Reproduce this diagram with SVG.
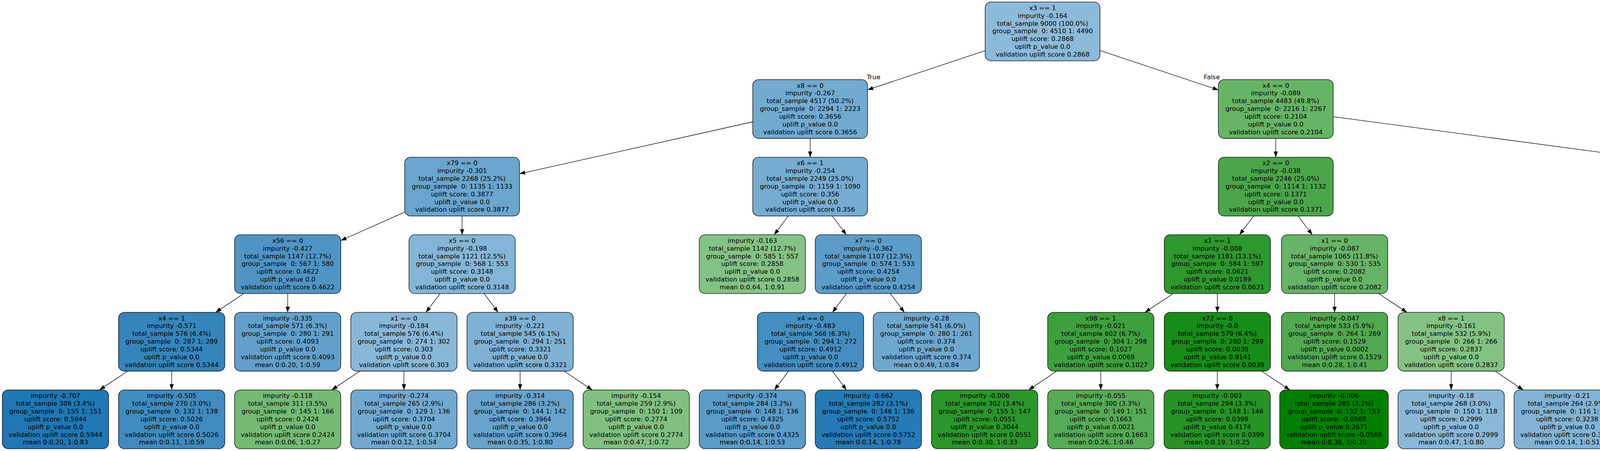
<svg xmlns="http://www.w3.org/2000/svg" width="6533" height="1155" viewBox="0 0 6533 1155">
<style>
.node rect { stroke:#000; stroke-width:1.3; }
.node text, .elabel { font-family:"DejaVu Sans","Liberation Sans",sans-serif; font-size:16.45px; text-anchor:middle; fill:#000; white-space:pre; }
.edges path { stroke:#000; stroke-width:1.3; fill:none; marker-end:url(#arrow); }
</style>
<defs>
<marker id="arrow" markerUnits="userSpaceOnUse" markerWidth="14.5" markerHeight="10.7" refX="14.5" refY="5.35" orient="auto" viewBox="0 0 14.5 10.7"><path d="M0,0 L14.5,5.35 L0,10.7 z" fill="#000"/></marker>
</defs>
<rect width="6533" height="1155" fill="#fff"/>
<g id="edges" class="edges">
<path d="M2522,129.6L2221,230.1"/>
<path d="M2816,129.4L3119,230.3"/>
<path d="M1927,312L1330,445.1"/>
<path d="M2074,354.5L2074,402.6"/>
<path d="M3266,354.5L3266,402.6"/>
<path d="M3413,298.8L4608.5,458.3"/>
<path d="M1036,543.3L872.5,616"/>
<path d="M1183,553.2L1183,601.2"/>
<path d="M2017.9,553.2L1982.1,601.2"/>
<path d="M2130.5,553.2L2166.5,601.2"/>
<path d="M3209.3,553.2L3173.2,601.2"/>
<path d="M3323,553.2L3359.5,601.2"/>
<path d="M4755.5,553.2L4755.5,601.2"/>
<path d="M4902.5,510.7L5511,646.2"/>
<path d="M623.9,751.8L552.1,799.9"/>
<path d="M736.5,751.8L736.5,799.9"/>
<path d="M1126.5,751.8L1090.5,799.9"/>
<path d="M1239.3,751.8L1275.2,799.9"/>
<path d="M2166.9,751.8L2131.1,799.9"/>
<path d="M2279.3,751.8L2315.2,799.9"/>
<path d="M3003.4,751.8L2931.1,799.9"/>
<path d="M3116.5,751.8L3116.5,799.9"/>
<path d="M3416.5,751.8L3416.5,799.9"/>
<path d="M3529.6,751.8L3601.9,799.9"/>
<path d="M4699.2,751.8L4663.3,799.9"/>
<path d="M4811.8,751.8L4847.7,799.9"/>
<path d="M5647,751.8L5647,799.9"/>
<path d="M5783,737L5958,814.7"/>
<path d="M326.7,950.5L254.8,998.6"/>
<path d="M439.5,950.5L439.5,998.6"/>
<path d="M921.2,950.5L849.3,998.6"/>
<path d="M1034,950.5L1034,998.6"/>
<path d="M1331.5,950.5L1331.5,998.6"/>
<path d="M1444.1,950.5L1516.1,998.6"/>
<path d="M2018.5,950.5L1982.5,998.6"/>
<path d="M2131.1,950.5L2166.9,998.6"/>
<path d="M2705.3,950.5L2633.4,998.6"/>
<path d="M2818,950.5L2818,998.6"/>
<path d="M3116.3,950.5L3116.3,998.6"/>
<path d="M3229.6,950.5L3301.9,998.6"/>
<path d="M3715,950.5L3715,998.6"/>
<path d="M3827.6,950.5L3899.4,998.6"/>
<path d="M4494.4,950.5L4422.6,998.6"/>
<path d="M4607,950.5L4607,998.6"/>
<path d="M4904,950.5L4904,998.6"/>
<path d="M5016.8,950.5L5088.7,998.6"/>
<path d="M5590.9,950.5L5555.1,998.6"/>
<path d="M5703.9,950.5L5740.1,998.6"/>
<path d="M6094,950.5L6094,998.6"/>
<path d="M6206.6,950.5L6278.4,998.6"/>
<text class="elabel" x="2236.4" y="203.3">True</text>
<text class="elabel" x="3102.4" y="203.3">False</text>
</g>
<g id="nodes">
<g id="n0" class="node" transform="translate(2669,5.2)"><rect x="-147" y="0" width="294" height="150.6" rx="15" fill="#8dbad9"/><text><tspan x="0" y="20.8">x3 == 1</tspan><tspan x="0" y="40.6">impurity -0.164</tspan><tspan x="0" y="60.5">total_sample 9000 (100.0%)</tspan><tspan x="0" y="80.3">group_sample  0: 4510 1: 4490</tspan><tspan x="0" y="100.1">uplift score: 0.2868</tspan><tspan x="0" y="120">uplift p_value 0.0</tspan><tspan x="0" y="139.8">validation uplift score 0.2868</tspan></text></g>
<g id="n1" class="node" transform="translate(2074,203.9)"><rect x="-147" y="0" width="294" height="150.6" rx="15" fill="#72aad0"/><text><tspan x="0" y="20.8">x8 == 0</tspan><tspan x="0" y="40.6">impurity -0.267</tspan><tspan x="0" y="60.5">total_sample 4517 (50.2%)</tspan><tspan x="0" y="80.3">group_sample  0: 2294 1: 2223</tspan><tspan x="0" y="100.1">uplift score: 0.3656</tspan><tspan x="0" y="120">uplift p_value 0.0</tspan><tspan x="0" y="139.8">validation uplift score 0.3656</tspan></text></g>
<g id="n2" class="node" transform="translate(3266,203.9)"><rect x="-147" y="0" width="294" height="150.6" rx="15" fill="#67b467"/><text><tspan x="0" y="20.8">x4 == 0</tspan><tspan x="0" y="40.6">impurity -0.089</tspan><tspan x="0" y="60.5">total_sample 4483 (49.8%)</tspan><tspan x="0" y="80.3">group_sample  0: 2216 1: 2267</tspan><tspan x="0" y="100.1">uplift score: 0.2104</tspan><tspan x="0" y="120">uplift p_value 0.0</tspan><tspan x="0" y="139.8">validation uplift score 0.2104</tspan></text></g>
<g id="n3" class="node" transform="translate(1183,402.6)"><rect x="-147" y="0" width="294" height="150.6" rx="15" fill="#6aa5cd"/><text><tspan x="0" y="20.8">x79 == 0</tspan><tspan x="0" y="40.6">impurity -0.301</tspan><tspan x="0" y="60.5">total_sample 2268 (25.2%)</tspan><tspan x="0" y="80.3">group_sample  0: 1135 1: 1133</tspan><tspan x="0" y="100.1">uplift score: 0.3877</tspan><tspan x="0" y="120">uplift p_value 0.0</tspan><tspan x="0" y="139.8">validation uplift score 0.3877</tspan></text></g>
<g id="n4" class="node" transform="translate(2074,402.6)"><rect x="-147" y="0" width="294" height="150.6" rx="15" fill="#76acd1"/><text><tspan x="0" y="20.8">x6 == 1</tspan><tspan x="0" y="40.6">impurity -0.254</tspan><tspan x="0" y="60.5">total_sample 2249 (25.0%)</tspan><tspan x="0" y="80.3">group_sample  0: 1159 1: 1090</tspan><tspan x="0" y="100.1">uplift score: 0.356</tspan><tspan x="0" y="120">uplift p_value 0.0</tspan><tspan x="0" y="139.8">validation uplift score 0.356</tspan></text></g>
<g id="n5" class="node" transform="translate(3266,402.6)"><rect x="-147" y="0" width="294" height="150.6" rx="15" fill="#4ba54b"/><text><tspan x="0" y="20.8">x2 == 0</tspan><tspan x="0" y="40.6">impurity -0.038</tspan><tspan x="0" y="60.5">total_sample 2246 (25.0%)</tspan><tspan x="0" y="80.3">group_sample  0: 1114 1: 1132</tspan><tspan x="0" y="100.1">uplift score: 0.1371</tspan><tspan x="0" y="120">uplift p_value 0.0</tspan><tspan x="0" y="139.8">validation uplift score 0.1371</tspan></text></g>
<g id="n6" class="node" transform="translate(4755.5,402.6)"><rect x="-147" y="0" width="294" height="150.6" rx="15" fill="#81c081"/><text><tspan x="0" y="20.8">x1 == 0</tspan><tspan x="0" y="40.6">impurity -0.153</tspan><tspan x="0" y="60.5">total_sample 2237 (24.9%)</tspan><tspan x="0" y="80.3">group_sample  0: 1102 1: 1135</tspan><tspan x="0" y="100.1">uplift score: 0.2769</tspan><tspan x="0" y="120">uplift p_value 0.0</tspan><tspan x="0" y="139.8">validation uplift score 0.2769</tspan></text></g>
<g id="n7" class="node" transform="translate(736.5,601.2)"><rect x="-136" y="0" width="272" height="150.6" rx="15" fill="#4f94c4"/><text><tspan x="0" y="20.8">x56 == 0</tspan><tspan x="0" y="40.6">impurity -0.427</tspan><tspan x="0" y="60.5">total_sample 1147 (12.7%)</tspan><tspan x="0" y="80.3">group_sample  0: 567 1: 580</tspan><tspan x="0" y="100.1">uplift score: 0.4622</tspan><tspan x="0" y="120">uplift p_value 0.0</tspan><tspan x="0" y="139.8">validation uplift score 0.4622</tspan></text></g>
<g id="n8" class="node" transform="translate(1183,601.2)"><rect x="-136" y="0" width="272" height="150.6" rx="15" fill="#85b5d6"/><text><tspan x="0" y="20.8">x5 == 0</tspan><tspan x="0" y="40.6">impurity -0.198</tspan><tspan x="0" y="60.5">total_sample 1121 (12.5%)</tspan><tspan x="0" y="80.3">group_sample  0: 568 1: 553</tspan><tspan x="0" y="100.1">uplift score: 0.3148</tspan><tspan x="0" y="120">uplift p_value 0.0</tspan><tspan x="0" y="139.8">validation uplift score 0.3148</tspan></text></g>
<g id="n9" class="node" transform="translate(1926,601.2)"><rect x="-136" y="0" width="272" height="150.6" rx="15" fill="#85c285"/><text><tspan x="0" y="20.8">impurity -0.163</tspan><tspan x="0" y="40.6">total_sample 1142 (12.7%)</tspan><tspan x="0" y="60.5">group_sample  0: 585 1: 557</tspan><tspan x="0" y="80.3">uplift score: 0.2858</tspan><tspan x="0" y="100.1">uplift p_value 0.0</tspan><tspan x="0" y="120">validation uplift score 0.2858</tspan><tspan x="0" y="139.8">mean 0:0.64, 1:0.91</tspan></text></g>
<g id="n10" class="node" transform="translate(2223,601.2)"><rect x="-136" y="0" width="272" height="150.6" rx="15" fill="#5d9cc9"/><text><tspan x="0" y="20.8">x7 == 0</tspan><tspan x="0" y="40.6">impurity -0.362</tspan><tspan x="0" y="60.5">total_sample 1107 (12.3%)</tspan><tspan x="0" y="80.3">group_sample  0: 574 1: 533</tspan><tspan x="0" y="100.1">uplift score: 0.4254</tspan><tspan x="0" y="120">uplift p_value 0.0</tspan><tspan x="0" y="139.8">validation uplift score 0.4254</tspan></text></g>
<g id="n11" class="node" transform="translate(3116.5,601.2)"><rect x="-136" y="0" width="272" height="150.6" rx="15" fill="#2e972e"/><text><tspan x="0" y="20.8">x1 == 1</tspan><tspan x="0" y="40.6">impurity -0.008</tspan><tspan x="0" y="60.5">total_sample 1181 (13.1%)</tspan><tspan x="0" y="80.3">group_sample  0: 584 1: 597</tspan><tspan x="0" y="100.1">uplift score: 0.0621</tspan><tspan x="0" y="120">uplift p_value 0.0189</tspan><tspan x="0" y="139.8">validation uplift score 0.0621</tspan></text></g>
<g id="n12" class="node" transform="translate(3416.5,601.2)"><rect x="-136" y="0" width="272" height="150.6" rx="15" fill="#67b367"/><text><tspan x="0" y="20.8">x1 == 0</tspan><tspan x="0" y="40.6">impurity -0.087</tspan><tspan x="0" y="60.5">total_sample 1065 (11.8%)</tspan><tspan x="0" y="80.3">group_sample  0: 530 1: 535</tspan><tspan x="0" y="100.1">uplift score: 0.2082</tspan><tspan x="0" y="120">uplift p_value 0.0</tspan><tspan x="0" y="139.8">validation uplift score 0.2082</tspan></text></g>
<g id="n13" class="node" transform="translate(4755.5,601.2)"><rect x="-136" y="0" width="272" height="150.6" rx="15" fill="#70b870"/><text><tspan x="0" y="20.8">x88 == 0</tspan><tspan x="0" y="40.6">impurity -0.109</tspan><tspan x="0" y="60.5">total_sample 1121 (12.5%)</tspan><tspan x="0" y="80.3">group_sample  0: 547 1: 574</tspan><tspan x="0" y="100.1">uplift score: 0.2331</tspan><tspan x="0" y="120">uplift p_value 0.0</tspan><tspan x="0" y="139.8">validation uplift score 0.2331</tspan></text></g>
<g id="n14" class="node" transform="translate(5647,601.2)"><rect x="-136" y="0" width="272" height="150.6" rx="15" fill="#7fb1d4"/><text><tspan x="0" y="20.8">x5 == 1</tspan><tspan x="0" y="40.6">impurity -0.221</tspan><tspan x="0" y="60.5">total_sample 1116 (12.4%)</tspan><tspan x="0" y="80.3">group_sample  0: 555 1: 561</tspan><tspan x="0" y="100.1">uplift score: 0.3322</tspan><tspan x="0" y="120">uplift p_value 0.0</tspan><tspan x="0" y="139.8">validation uplift score 0.3322</tspan></text></g>
<g id="n15" class="node" transform="translate(439.5,799.9)"><rect x="-136" y="0" width="272" height="150.6" rx="15" fill="#3584bb"/><text><tspan x="0" y="20.8">x4 == 1</tspan><tspan x="0" y="40.6">impurity -0.571</tspan><tspan x="0" y="60.5">total_sample 576 (6.4%)</tspan><tspan x="0" y="80.3">group_sample  0: 287 1: 289</tspan><tspan x="0" y="100.1">uplift score: 0.5344</tspan><tspan x="0" y="120">uplift p_value 0.0</tspan><tspan x="0" y="139.8">validation uplift score 0.5344</tspan></text></g>
<g id="n16" class="node" transform="translate(736.5,799.9)"><rect x="-136" y="0" width="272" height="150.6" rx="15" fill="#62a0cb"/><text><tspan x="0" y="20.8">impurity -0.335</tspan><tspan x="0" y="40.6">total_sample 571 (6.3%)</tspan><tspan x="0" y="60.5">group_sample  0: 280 1: 291</tspan><tspan x="0" y="80.3">uplift score: 0.4093</tspan><tspan x="0" y="100.1">uplift p_value 0.0</tspan><tspan x="0" y="120">validation uplift score 0.4093</tspan><tspan x="0" y="139.8">mean 0:0.20, 1:0.59</tspan></text></g>
<g id="n17" class="node" transform="translate(1034,799.9)"><rect x="-136" y="0" width="272" height="150.6" rx="15" fill="#89b7d8"/><text><tspan x="0" y="20.8">x1 == 0</tspan><tspan x="0" y="40.6">impurity -0.184</tspan><tspan x="0" y="60.5">total_sample 576 (6.4%)</tspan><tspan x="0" y="80.3">group_sample  0: 274 1: 302</tspan><tspan x="0" y="100.1">uplift score: 0.303</tspan><tspan x="0" y="120">uplift p_value 0.0</tspan><tspan x="0" y="139.8">validation uplift score 0.303</tspan></text></g>
<g id="n18" class="node" transform="translate(1331.5,799.9)"><rect x="-136" y="0" width="272" height="150.6" rx="15" fill="#7fb1d4"/><text><tspan x="0" y="20.8">x39 == 0</tspan><tspan x="0" y="40.6">impurity -0.221</tspan><tspan x="0" y="60.5">total_sample 545 (6.1%)</tspan><tspan x="0" y="80.3">group_sample  0: 294 1: 251</tspan><tspan x="0" y="100.1">uplift score: 0.3321</tspan><tspan x="0" y="120">uplift p_value 0.0</tspan><tspan x="0" y="139.8">validation uplift score 0.3321</tspan></text></g>
<g id="n19" class="node" transform="translate(2075,799.9)"><rect x="-136" y="0" width="272" height="150.6" rx="15" fill="#458ec1"/><text><tspan x="0" y="20.8">x4 == 0</tspan><tspan x="0" y="40.6">impurity -0.483</tspan><tspan x="0" y="60.5">total_sample 566 (6.3%)</tspan><tspan x="0" y="80.3">group_sample  0: 294 1: 272</tspan><tspan x="0" y="100.1">uplift score: 0.4912</tspan><tspan x="0" y="120">uplift p_value 0.0</tspan><tspan x="0" y="139.8">validation uplift score 0.4912</tspan></text></g>
<g id="n20" class="node" transform="translate(2371.5,799.9)"><rect x="-136" y="0" width="272" height="150.6" rx="15" fill="#6fa8cf"/><text><tspan x="0" y="20.8">impurity -0.28</tspan><tspan x="0" y="40.6">total_sample 541 (6.0%)</tspan><tspan x="0" y="60.5">group_sample  0: 280 1: 261</tspan><tspan x="0" y="80.3">uplift score: 0.374</tspan><tspan x="0" y="100.1">uplift p_value 0.0</tspan><tspan x="0" y="120">validation uplift score 0.374</tspan><tspan x="0" y="139.8">mean 0:0.49, 1:0.84</tspan></text></g>
<g id="n21" class="node" transform="translate(2818,799.9)"><rect x="-136" y="0" width="272" height="150.6" rx="15" fill="#3e9f3e"/><text><tspan x="0" y="20.8">x98 == 1</tspan><tspan x="0" y="40.6">impurity -0.021</tspan><tspan x="0" y="60.5">total_sample 602 (6.7%)</tspan><tspan x="0" y="80.3">group_sample  0: 304 1: 298</tspan><tspan x="0" y="100.1">uplift score: 0.1027</tspan><tspan x="0" y="120">uplift p_value 0.0069</tspan><tspan x="0" y="139.8">validation uplift score 0.1027</tspan></text></g>
<g id="n22" class="node" transform="translate(3116.5,799.9)"><rect x="-136" y="0" width="272" height="150.6" rx="15" fill="#188c18"/><text><tspan x="0" y="20.8">x72 == 0</tspan><tspan x="0" y="40.6">impurity -0.0</tspan><tspan x="0" y="60.5">total_sample 579 (6.4%)</tspan><tspan x="0" y="80.3">group_sample  0: 280 1: 299</tspan><tspan x="0" y="100.1">uplift score: 0.0039</tspan><tspan x="0" y="120">uplift p_value 0.9141</tspan><tspan x="0" y="139.8">validation uplift score 0.0039</tspan></text></g>
<g id="n23" class="node" transform="translate(3416.5,799.9)"><rect x="-136" y="0" width="272" height="150.6" rx="15" fill="#51a851"/><text><tspan x="0" y="20.8">impurity -0.047</tspan><tspan x="0" y="40.6">total_sample 533 (5.9%)</tspan><tspan x="0" y="60.5">group_sample  0: 264 1: 269</tspan><tspan x="0" y="80.3">uplift score: 0.1529</tspan><tspan x="0" y="100.1">uplift p_value 0.0002</tspan><tspan x="0" y="120">validation uplift score 0.1529</tspan><tspan x="0" y="139.8">mean 0:0.28, 1:0.41</tspan></text></g>
<g id="n24" class="node" transform="translate(3715,799.9)"><rect x="-136" y="0" width="272" height="150.6" rx="15" fill="#84c284"/><text><tspan x="0" y="20.8">x8 == 1</tspan><tspan x="0" y="40.6">impurity -0.161</tspan><tspan x="0" y="60.5">total_sample 532 (5.9%)</tspan><tspan x="0" y="80.3">group_sample  0: 266 1: 266</tspan><tspan x="0" y="100.1">uplift score: 0.2837</tspan><tspan x="0" y="120">uplift p_value 0.0</tspan><tspan x="0" y="139.8">validation uplift score 0.2837</tspan></text></g>
<g id="n25" class="node" transform="translate(4607,799.9)"><rect x="-136" y="0" width="272" height="150.6" rx="15" fill="#81c081"/><text><tspan x="0" y="20.8">x59 == 1</tspan><tspan x="0" y="40.6">impurity -0.154</tspan><tspan x="0" y="60.5">total_sample 582 (6.5%)</tspan><tspan x="0" y="80.3">group_sample  0: 290 1: 292</tspan><tspan x="0" y="100.1">uplift score: 0.2773</tspan><tspan x="0" y="120">uplift p_value 0.0</tspan><tspan x="0" y="139.8">validation uplift score 0.2773</tspan></text></g>
<g id="n26" class="node" transform="translate(4904,799.9)"><rect x="-136" y="0" width="272" height="150.6" rx="15" fill="#5aad5a"/><text><tspan x="0" y="20.8">x71 == 1</tspan><tspan x="0" y="40.6">impurity -0.061</tspan><tspan x="0" y="60.5">total_sample 539 (6.0%)</tspan><tspan x="0" y="80.3">group_sample  0: 257 1: 282</tspan><tspan x="0" y="100.1">uplift score: 0.1752</tspan><tspan x="0" y="120">uplift p_value 0.0</tspan><tspan x="0" y="139.8">validation uplift score 0.1752</tspan></text></g>
<g id="n27" class="node" transform="translate(5647,799.9)"><rect x="-136" y="0" width="272" height="150.6" rx="15" fill="#83b4d6"/><text><tspan x="0" y="20.8">x90 == 1</tspan><tspan x="0" y="40.6">impurity -0.205</tspan><tspan x="0" y="60.5">total_sample 572 (6.4%)</tspan><tspan x="0" y="80.3">group_sample  0: 291 1: 281</tspan><tspan x="0" y="100.1">uplift score: 0.32</tspan><tspan x="0" y="120">uplift p_value 0.0</tspan><tspan x="0" y="139.8">validation uplift score 0.32</tspan></text></g>
<g id="n28" class="node" transform="translate(6094,799.9)"><rect x="-136" y="0" width="272" height="150.6" rx="15" fill="#72a9d0"/><text><tspan x="0" y="20.8">x61 == 0</tspan><tspan x="0" y="40.6">impurity -0.269</tspan><tspan x="0" y="60.5">total_sample 544 (6.0%)</tspan><tspan x="0" y="80.3">group_sample  0: 264 1: 280</tspan><tspan x="0" y="100.1">uplift score: 0.3669</tspan><tspan x="0" y="120">uplift p_value 0.0</tspan><tspan x="0" y="139.8">validation uplift score 0.3669</tspan></text></g>
<g id="n29" class="node" transform="translate(142,998.6)"><rect x="-136" y="0" width="272" height="150.6" rx="15" fill="#1f77b4"/><text><tspan x="0" y="20.8">impurity -0.707</tspan><tspan x="0" y="40.6">total_sample 306 (3.4%)</tspan><tspan x="0" y="60.5">group_sample  0: 155 1: 151</tspan><tspan x="0" y="80.3">uplift score: 0.5944</tspan><tspan x="0" y="100.1">uplift p_value 0.0</tspan><tspan x="0" y="120">validation uplift score 0.5944</tspan><tspan x="0" y="139.8">mean 0:0.20, 1:0.83</tspan></text></g>
<g id="n30" class="node" transform="translate(439.5,998.6)"><rect x="-136" y="0" width="272" height="150.6" rx="15" fill="#408bbf"/><text><tspan x="0" y="20.8">impurity -0.505</tspan><tspan x="0" y="40.6">total_sample 270 (3.0%)</tspan><tspan x="0" y="60.5">group_sample  0: 132 1: 138</tspan><tspan x="0" y="80.3">uplift score: 0.5026</tspan><tspan x="0" y="100.1">uplift p_value 0.0</tspan><tspan x="0" y="120">validation uplift score 0.5026</tspan><tspan x="0" y="139.8">mean 0:0.11, 1:0.59</tspan></text></g>
<g id="n31" class="node" transform="translate(736.5,998.6)"><rect x="-136" y="0" width="272" height="150.6" rx="15" fill="#74ba74"/><text><tspan x="0" y="20.8">impurity -0.118</tspan><tspan x="0" y="40.6">total_sample 311 (3.5%)</tspan><tspan x="0" y="60.5">group_sample  0: 145 1: 166</tspan><tspan x="0" y="80.3">uplift score: 0.2424</tspan><tspan x="0" y="100.1">uplift p_value 0.0</tspan><tspan x="0" y="120">validation uplift score 0.2424</tspan><tspan x="0" y="139.8">mean 0:0.06, 1:0.27</tspan></text></g>
<g id="n32" class="node" transform="translate(1034,998.6)"><rect x="-136" y="0" width="272" height="150.6" rx="15" fill="#71a9cf"/><text><tspan x="0" y="20.8">impurity -0.274</tspan><tspan x="0" y="40.6">total_sample 265 (2.9%)</tspan><tspan x="0" y="60.5">group_sample  0: 129 1: 136</tspan><tspan x="0" y="80.3">uplift score: 0.3704</tspan><tspan x="0" y="100.1">uplift p_value 0.0</tspan><tspan x="0" y="120">validation uplift score 0.3704</tspan><tspan x="0" y="139.8">mean 0:0.12, 1:0.54</tspan></text></g>
<g id="n33" class="node" transform="translate(1331.5,998.6)"><rect x="-136" y="0" width="272" height="150.6" rx="15" fill="#67a3cc"/><text><tspan x="0" y="20.8">impurity -0.314</tspan><tspan x="0" y="40.6">total_sample 286 (3.2%)</tspan><tspan x="0" y="60.5">group_sample  0: 144 1: 142</tspan><tspan x="0" y="80.3">uplift score: 0.3964</tspan><tspan x="0" y="100.1">uplift p_value 0.0</tspan><tspan x="0" y="120">validation uplift score 0.3964</tspan><tspan x="0" y="139.8">mean 0:0.35, 1:0.80</tspan></text></g>
<g id="n34" class="node" transform="translate(1628.7,998.6)"><rect x="-136" y="0" width="272" height="150.6" rx="15" fill="#81c081"/><text><tspan x="0" y="20.8">impurity -0.154</tspan><tspan x="0" y="40.6">total_sample 259 (2.9%)</tspan><tspan x="0" y="60.5">group_sample  0: 150 1: 109</tspan><tspan x="0" y="80.3">uplift score: 0.2774</tspan><tspan x="0" y="100.1">uplift p_value 0.0</tspan><tspan x="0" y="120">validation uplift score 0.2774</tspan><tspan x="0" y="139.8">mean 0:0.47, 1:0.72</tspan></text></g>
<g id="n35" class="node" transform="translate(1926,998.6)"><rect x="-136" y="0" width="272" height="150.6" rx="15" fill="#5a9bc8"/><text><tspan x="0" y="20.8">impurity -0.374</tspan><tspan x="0" y="40.6">total_sample 284 (3.2%)</tspan><tspan x="0" y="60.5">group_sample  0: 148 1: 136</tspan><tspan x="0" y="80.3">uplift score: 0.4325</tspan><tspan x="0" y="100.1">uplift p_value 0.0</tspan><tspan x="0" y="120">validation uplift score 0.4325</tspan><tspan x="0" y="139.8">mean 0:0.14, 1:0.53</tspan></text></g>
<g id="n36" class="node" transform="translate(2223,998.6)"><rect x="-136" y="0" width="272" height="150.6" rx="15" fill="#267bb6"/><text><tspan x="0" y="20.8">impurity -0.662</tspan><tspan x="0" y="40.6">total_sample 282 (3.1%)</tspan><tspan x="0" y="60.5">group_sample  0: 146 1: 136</tspan><tspan x="0" y="80.3">uplift score: 0.5752</tspan><tspan x="0" y="100.1">uplift p_value 0.0</tspan><tspan x="0" y="120">validation uplift score 0.5752</tspan><tspan x="0" y="139.8">mean 0:0.14, 1:0.78</tspan></text></g>
<g id="n37" class="node" transform="translate(2520.7,998.6)"><rect x="-136" y="0" width="272" height="150.6" rx="15" fill="#2b962b"/><text><tspan x="0" y="20.8">impurity -0.006</tspan><tspan x="0" y="40.6">total_sample 302 (3.4%)</tspan><tspan x="0" y="60.5">group_sample  0: 155 1: 147</tspan><tspan x="0" y="80.3">uplift score: 0.0551</tspan><tspan x="0" y="100.1">uplift p_value 0.3044</tspan><tspan x="0" y="120">validation uplift score 0.0551</tspan><tspan x="0" y="139.8">mean 0:0.30, 1:0.33</tspan></text></g>
<g id="n38" class="node" transform="translate(2818,998.6)"><rect x="-136" y="0" width="272" height="150.6" rx="15" fill="#56ab56"/><text><tspan x="0" y="20.8">impurity -0.055</tspan><tspan x="0" y="40.6">total_sample 300 (3.3%)</tspan><tspan x="0" y="60.5">group_sample  0: 149 1: 151</tspan><tspan x="0" y="80.3">uplift score: 0.1663</tspan><tspan x="0" y="100.1">uplift p_value 0.0021</tspan><tspan x="0" y="120">validation uplift score 0.1663</tspan><tspan x="0" y="139.8">mean 0:0.26, 1:0.46</tspan></text></g>
<g id="n39" class="node" transform="translate(3116,998.6)"><rect x="-136" y="0" width="272" height="150.6" rx="15" fill="#269326"/><text><tspan x="0" y="20.8">impurity -0.003</tspan><tspan x="0" y="40.6">total_sample 294 (3.3%)</tspan><tspan x="0" y="60.5">group_sample  0: 148 1: 146</tspan><tspan x="0" y="80.3">uplift score: 0.0399</tspan><tspan x="0" y="100.1">uplift p_value 0.4174</tspan><tspan x="0" y="120">validation uplift score 0.0399</tspan><tspan x="0" y="139.8">mean 0:0.19, 1:0.25</tspan></text></g>
<g id="n40" class="node" transform="translate(3415,998.6)"><rect x="-139" y="0" width="278" height="150.6" rx="15" fill="#008000"/><text><tspan x="0" y="20.8">impurity -0.006</tspan><tspan x="0" y="40.6">total_sample 285 (3.2%)</tspan><tspan x="0" y="60.5">group_sample  0: 132 1: 153</tspan><tspan x="0" y="80.3">uplift score: -0.0568</tspan><tspan x="0" y="100.1">uplift p_value 0.2671</tspan><tspan x="0" y="120">validation uplift score -0.0568</tspan><tspan x="0" y="139.8">mean 0:0.30, 1:0.20</tspan></text></g>
<g id="n41" class="node" transform="translate(3715,998.6)"><rect x="-136" y="0" width="272" height="150.6" rx="15" fill="#8ab8d8"/><text><tspan x="0" y="20.8">impurity -0.18</tspan><tspan x="0" y="40.6">total_sample 268 (3.0%)</tspan><tspan x="0" y="60.5">group_sample  0: 150 1: 118</tspan><tspan x="0" y="80.3">uplift score: 0.2999</tspan><tspan x="0" y="100.1">uplift p_value 0.0</tspan><tspan x="0" y="120">validation uplift score 0.2999</tspan><tspan x="0" y="139.8">mean 0:0.47, 1:0.80</tspan></text></g>
<g id="n42" class="node" transform="translate(4012,998.6)"><rect x="-136" y="0" width="272" height="150.6" rx="15" fill="#82b3d5"/><text><tspan x="0" y="20.8">impurity -0.21</tspan><tspan x="0" y="40.6">total_sample 264 (2.9%)</tspan><tspan x="0" y="60.5">group_sample  0: 116 1: 148</tspan><tspan x="0" y="80.3">uplift score: 0.3238</tspan><tspan x="0" y="100.1">uplift p_value 0.0</tspan><tspan x="0" y="120">validation uplift score 0.3238</tspan><tspan x="0" y="139.8">mean 0:0.14, 1:0.51</tspan></text></g>
<g id="n43" class="node" transform="translate(4310,998.6)"><rect x="-136" y="0" width="272" height="150.6" rx="15" fill="#79aed2"/><text><tspan x="0" y="20.8">impurity -0.241</tspan><tspan x="0" y="40.6">total_sample 291 (3.2%)</tspan><tspan x="0" y="60.5">group_sample  0: 146 1: 145</tspan><tspan x="0" y="80.3">uplift score: 0.347</tspan><tspan x="0" y="100.1">uplift p_value 0.0</tspan><tspan x="0" y="120">validation uplift score 0.347</tspan><tspan x="0" y="139.8">mean 0:0.25, 1:0.65</tspan></text></g>
<g id="n44" class="node" transform="translate(4607,998.6)"><rect x="-136" y="0" width="272" height="150.6" rx="15" fill="#6eb76e"/><text><tspan x="0" y="20.8">impurity -0.102</tspan><tspan x="0" y="40.6">total_sample 291 (3.2%)</tspan><tspan x="0" y="60.5">group_sample  0: 144 1: 147</tspan><tspan x="0" y="80.3">uplift score: 0.2259</tspan><tspan x="0" y="100.1">uplift p_value 0.0001</tspan><tspan x="0" y="120">validation uplift score 0.2259</tspan><tspan x="0" y="139.8">mean 0:0.33, 1:0.52</tspan></text></g>
<g id="n45" class="node" transform="translate(4904,998.6)"><rect x="-136" y="0" width="272" height="150.6" rx="15" fill="#6eb76e"/><text><tspan x="0" y="20.8">impurity -0.103</tspan><tspan x="0" y="40.6">total_sample 282 (3.1%)</tspan><tspan x="0" y="60.5">group_sample  0: 126 1: 156</tspan><tspan x="0" y="80.3">uplift score: 0.2267</tspan><tspan x="0" y="100.1">uplift p_value 0.0001</tspan><tspan x="0" y="120">validation uplift score 0.2267</tspan><tspan x="0" y="139.8">mean 0:0.30, 1:0.56</tspan></text></g>
<g id="n46" class="node" transform="translate(5201.5,998.6)"><rect x="-136" y="0" width="272" height="150.6" rx="15" fill="#3b9d3b"/><text><tspan x="0" y="20.8">impurity -0.018</tspan><tspan x="0" y="40.6">total_sample 257 (2.9%)</tspan><tspan x="0" y="60.5">group_sample  0: 131 1: 126</tspan><tspan x="0" y="80.3">uplift score: 0.0944</tspan><tspan x="0" y="100.1">uplift p_value 0.1223</tspan><tspan x="0" y="120">validation uplift score 0.0944</tspan><tspan x="0" y="139.8">mean 0:0.38, 1:0.41</tspan></text></g>
<g id="n47" class="node" transform="translate(5499,998.6)"><rect x="-136" y="0" width="272" height="150.6" rx="15" fill="#72a9d0"/><text><tspan x="0" y="20.8">impurity -0.268</tspan><tspan x="0" y="40.6">total_sample 306 (3.4%)</tspan><tspan x="0" y="60.5">group_sample  0: 152 1: 154</tspan><tspan x="0" y="80.3">uplift score: 0.3663</tspan><tspan x="0" y="100.1">uplift p_value 0.0</tspan><tspan x="0" y="120">validation uplift score 0.3663</tspan><tspan x="0" y="139.8">mean 0:0.48, 1:0.88</tspan></text></g>
<g id="n48" class="node" transform="translate(5797,998.6)"><rect x="-136" y="0" width="272" height="150.6" rx="15" fill="#7dbe7d"/><text><tspan x="0" y="20.8">impurity -0.14</tspan><tspan x="0" y="40.6">total_sample 266 (3.0%)</tspan><tspan x="0" y="60.5">group_sample  0: 139 1: 127</tspan><tspan x="0" y="80.3">uplift score: 0.2648</tspan><tspan x="0" y="100.1">uplift p_value 0.0</tspan><tspan x="0" y="120">validation uplift score 0.2648</tspan><tspan x="0" y="139.8">mean 0:0.54, 1:0.76</tspan></text></g>
<g id="n49" class="node" transform="translate(6094,998.6)"><rect x="-136" y="0" width="272" height="150.6" rx="15" fill="#5b9bc8"/><text><tspan x="0" y="20.8">impurity -0.37</tspan><tspan x="0" y="40.6">total_sample 281 (3.1%)</tspan><tspan x="0" y="60.5">group_sample  0: 144 1: 137</tspan><tspan x="0" y="80.3">uplift score: 0.4301</tspan><tspan x="0" y="100.1">uplift p_value 0.0</tspan><tspan x="0" y="120">validation uplift score 0.4301</tspan><tspan x="0" y="139.8">mean 0:0.14, 1:0.61</tspan></text></g>
<g id="n50" class="node" transform="translate(6391,998.6)"><rect x="-136" y="0" width="272" height="150.6" rx="15" fill="#84b4d6"/><text><tspan x="0" y="20.8">impurity -0.201</tspan><tspan x="0" y="40.6">total_sample 263 (2.9%)</tspan><tspan x="0" y="60.5">group_sample  0: 120 1: 143</tspan><tspan x="0" y="80.3">uplift score: 0.3167</tspan><tspan x="0" y="100.1">uplift p_value 0.0</tspan><tspan x="0" y="120">validation uplift score 0.3167</tspan><tspan x="0" y="139.8">mean 0:0.26, 1:0.54</tspan></text></g>
</g>
</svg>
